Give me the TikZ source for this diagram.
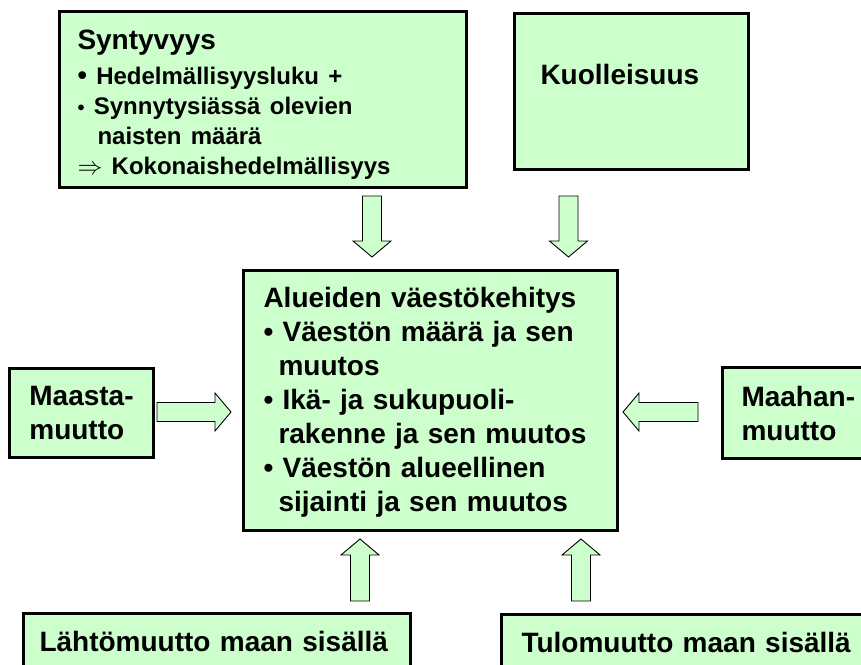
\documentclass[tikz,border=0pt]{standalone}
\usepackage{fontspec}
\setmainfont{Liberation Sans}
\usetikzlibrary{calc}
\definecolor{boxgreen}{HTML}{CCFFCC}
\newcommand{\shaftw}{9.5}
\newcommand{\headw}{19}
\newcommand{\headl}{16}
\tikzset{
  box/.style={draw=black, line width=3pt, fill=boxgreen, anchor=north west,
    align=left, inner ysep=0pt, font=\bfseries\fontsize{28}{34}\selectfont},
  fatarrow/.style={draw=black, line width=0.9pt, fill=boxgreen,
    to path={let \p1=(\tikztostart), \p2=(\tikztotarget),
      \n1={veclen(\x2-\x1,\y2-\y1)}, \n2={(\x2-\x1)/\n1}, \n3={(\y2-\y1)/\n1} in
      ({\x1-(\n3)*\shaftw},{\y1+(\n2)*\shaftw}) --
      ({\x2-(\n2)*\headl-(\n3)*\shaftw},{\y2-(\n3)*\headl+(\n2)*\shaftw}) --
      ({\x2-(\n2)*\headl-(\n3)*\headw},{\y2-(\n3)*\headl+(\n2)*\headw}) --
      (\p2) --
      ({\x2-(\n2)*\headl+(\n3)*\headw},{\y2-(\n3)*\headl-(\n2)*\headw}) --
      ({\x2-(\n2)*\headl+(\n3)*\shaftw},{\y2-(\n3)*\headl-(\n2)*\shaftw}) --
      ({\x1+(\n3)*\shaftw},{\y1-(\n2)*\shaftw}) -- cycle}}
}
\begin{document}
\begin{tikzpicture}[x=1pt,y=-1pt]
  \useasboundingbox (0,0) rectangle (861,664);
  \clip (0,0) rectangle (861,664);

  % top
  \node[box, minimum width=407pt, minimum height=176pt, text width=371pt,
    inner xsep=18pt, text height=22pt, text depth=122pt] (syn) at (58,10) {%
    {\fontsize{28}{30}\selectfont Syntyvyys\par}\vskip5pt
    \fontsize{24}{30}\selectfont{\fontsize{27}{30}\selectfont •} Hedelmällisyysluku +\par
    {\fontsize{20}{30}\selectfont •} Synnytysiässä olevien\par
    \hspace*{20pt}naisten määrä\par
    $\Rightarrow$ Kokonaishedelmällisyys\par};
  \node[box, minimum width=234pt, minimum height=156pt, text width=182pt,
    inner xsep=26pt, text height=20pt, text depth=34pt] (kuo) at (513,12) {Kuolleisuus};

  % middle
  \node[box, minimum width=374pt, minimum height=260pt, text width=334pt,
    inner xsep=20pt, text height=20pt, text depth=206pt] (vae) at (242,269) {%
    Alueiden väestökehitys\\
    • Väestön määrä ja sen\\
    \hspace*{15pt}muutos\\
    • Ikä- ja sukupuoli-\\
    \hspace*{15pt}rakenne ja sen muutos\\
    • Väestön alueellinen\\
    \hspace*{15pt}sijainti ja sen muutos};
  \node[box, minimum width=144pt, minimum height=89pt] (maasta) at (8,367)
    {Maasta-\\muutto};
  \node[box, minimum width=152pt, minimum height=91pt, text width=133pt,
    inner xsep=19pt] (maahan) at (721,366) {Maahan-\\muutto};

  % bottom
  \node[box, minimum width=387pt, minimum height=80pt, text width=355pt,
    inner xsep=16pt, text height=20pt, text depth=24pt] (lahto) at (22,612)
    {Lähtömuutto maan sisällä};
  \node[box, minimum width=380pt, minimum height=80pt, text width=360pt,
    inner xsep=20pt, text height=20pt, text depth=24pt] (tulo) at (500,613)
    {Tulomuutto maan sisällä};

  % arrows
  \coordinate (syn-a) at (372,196);
  \coordinate (syn-b) at (372,257);
  \coordinate (kuo-a) at (568.5,196);
  \coordinate (kuo-b) at (568.5,257);
  \coordinate (maasta-a) at (157,412);
  \coordinate (maasta-b) at (231,412);
  \coordinate (maahan-a) at (698,412);
  \coordinate (maahan-b) at (623,412);
  \coordinate (lahto-a) at (360,601);
  \coordinate (lahto-b) at (360,539);
  \coordinate (tulo-a) at (581,601);
  \coordinate (tulo-b) at (581,539);
  \foreach \s in {syn,kuo,maasta,maahan,lahto,tulo}
    \draw[fatarrow] (\s-a) to (\s-b);
\end{tikzpicture}
\end{document}
